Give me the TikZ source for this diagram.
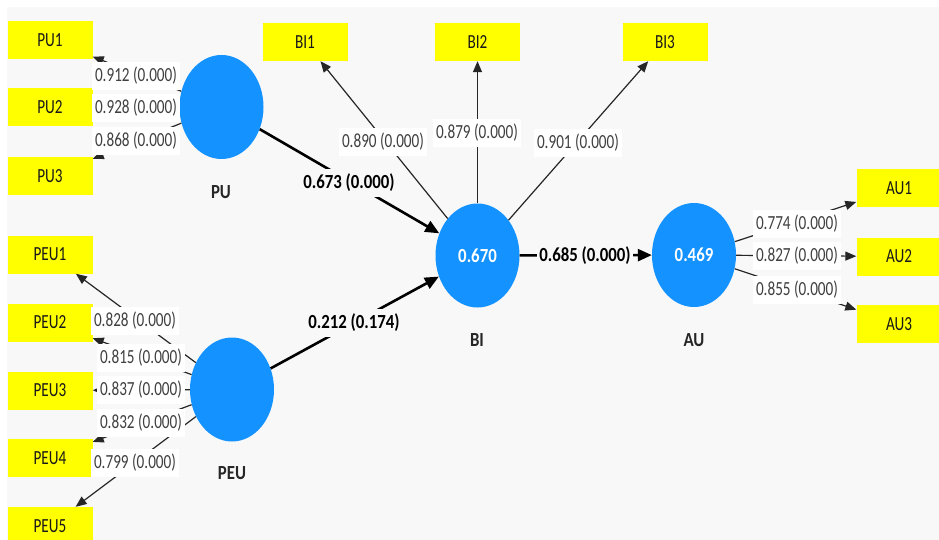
\documentclass[tikz,border=0pt]{standalone}
\usepackage{fontspec}
\setmainfont{Carlito}[FakeStretch=0.76]
\newfontfamily\bfam{Carlito}[FakeStretch=0.84]
\usetikzlibrary{arrows.meta,shapes.geometric}
\definecolor{bgc}{HTML}{F8F8F8}
\definecolor{plsblue}{HTML}{1492FF}
\definecolor{ylw}{HTML}{FFFF00}
\begin{document}
\begin{tikzpicture}[x=1pt,y=-1pt,
  ind/.style={fill=ylw, minimum width=85pt, minimum height=38pt, inner sep=0pt, text=black!90, font=\fontsize{20}{22}\selectfont},
  lv/.style={ellipse, fill=plsblue, minimum width=84pt, minimum height=104pt, inner sep=0pt, text=white, font=\bfam\bfseries\fontsize{20}{22}\selectfont},
  lvname/.style={font=\bfam\bfseries\fontsize{20}{22}\selectfont, text=black!85},
  load/.style={draw=black!85, line width=1.2pt, -{Triangle[length=11pt,width=9pt]}},
  pth/.style={draw=black, line width=2.6pt, -{Triangle[length=14pt,width=12pt]}},
  lab/.style={fill=white, inner xsep=3pt, inner ysep=5pt, text=black!75, font=\fontsize{20}{22}\selectfont},
  blab/.style={fill=bgc, inner xsep=2.5pt, inner ysep=5pt, text=black, font=\bfam\bfseries\fontsize{20}{22}\selectfont}]
\useasboundingbox (0,0) rectangle (939,540);
\clip (0,0) rectangle (939,540);
\fill[white] (0,0) rectangle (939,540);
\fill[bgc] (7,7) rectangle (939,540);

% indicators
\node[ind] (PU1) at (50,40) {PU1};
\node[ind] (PU2) at (50,107.5) {PU2};
\node[ind] (PU3) at (50,176) {PU3};
\node[ind] (PEU1) at (50,254.5) {PEU1};
\node[ind] (PEU2) at (50,322.5) {PEU2};
\node[ind] (PEU3) at (50,390.5) {PEU3};
\node[ind] (PEU4) at (50,458) {PEU4};
\node[ind] (PEU5) at (50,526) {PEU5};
\node[ind] (BI1) at (305,42) {BI1};
\node[ind] (BI2) at (477.5,42) {BI2};
\node[ind] (BI3) at (665,42) {BI3};
\node[ind] (AU1) at (899,188) {AU1};
\node[ind] (AU2) at (899,256.5) {AU2};
\node[ind] (AU3) at (899,324) {AU3};

% latent variables
\node[lv] (PU) at (221.5,107) {};
\node[lv] (PEU) at (232,389.5) {};
\node[lv] (BI) at (477.5,255.5) {0.670};
\node[lv] (AU) at (694,255) {0.469};

\node[lvname] (nPU) at (221,192) {PU};
\node[lvname] (nPEU) at (232,473) {PEU};
\node[lvname] (nBI) at (477,340) {BI};
\node[lvname] (nAU) at (694,340) {AU};

% edges
\foreach \s/\t in {PU/PU1,PU/PU2,PU/PU3,PEU/PEU1,PEU/PEU2,PEU/PEU3,PEU/PEU4,PEU/PEU5,BI/BI1,BI/BI2,BI/BI3,AU/AU1,AU/AU2,AU/AU3}
  \draw[load] (\s) -- (\t);
\draw[pth] (PU) -- (BI);
\draw[pth] (PEU) -- (BI);
\draw[pth] (BI) -- (AU);

% labels
\node[lab] (lPU1) at (136,76) {0.912 (0.000)};
\node[lab] (lPU2) at (136,108) {0.928 (0.000)};
\node[lab] (lPU3) at (136,141) {0.868 (0.000)};
\node[lab] (lPEU1) at (135,321) {0.828 (0.000)};
\node[lab] (lPEU2) at (141,358) {0.815 (0.000)};
\node[lab] (lPEU3) at (141,390) {0.837 (0.000)};
\node[lab] (lPEU4) at (141,423) {0.832 (0.000)};
\node[lab] (lPEU5) at (135,463) {0.799 (0.000)};
\node[lab] (lBI1) at (383,142) {0.890 (0.000)};
\node[lab] (lBI2) at (477,133) {0.879 (0.000)};
\node[lab] (lBI3) at (578,143) {0.901 (0.000)};
\node[lab] (lAU1) at (797,224) {0.774 (0.000)};
\node[lab] (lAU2) at (797,256) {0.827 (0.000)};
\node[lab] (lAU3) at (797,290) {0.855 (0.000)};
\node[blab] (lPUBI) at (349,183) {0.673 (0.000)};
\node[blab] (lPEUBI) at (354,323) {0.212 (0.174)};
\node[blab] (lBIAU) at (585,256) {0.685 (0.000)};
\end{tikzpicture}
\end{document}
